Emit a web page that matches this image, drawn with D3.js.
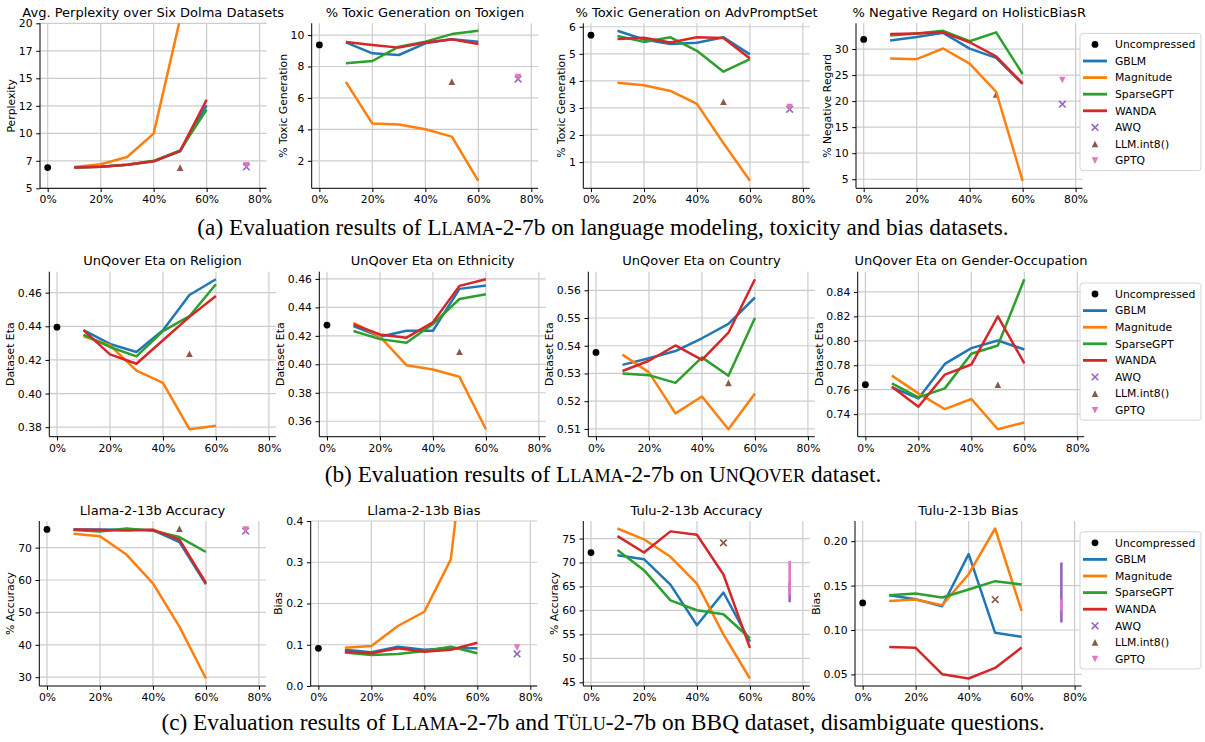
<!DOCTYPE html>
<html><head><meta charset="utf-8">
<script src="https://cdn.jsdelivr.net/npm/d3@7"></script>
<style>body{margin:0;background:#fff} svg text{font-family:"DejaVu Sans",sans-serif}</style>
</head><body><svg id="c" width="1205" height="742"></svg>
<script>
// ---------------- data ----------------
const sparsity = [10, 20, 30, 40, 50, 60];
const xTicks = [0, 20, 40, 60, 80];
const xTickLabels = ["0%", "20%", "40%", "60%", "80%"];
const methods = ["GBLM", "Magnitude", "SparseGPT", "WANDA"];
const titles = ["Avg. Perplexity over Six Dolma Datasets", "% Toxic Generation on Toxigen", "% Toxic Generation on AdvPromptSet", "% Negative Regard on HolisticBiasR",
  "UnQover Eta on Religion", "UnQover Eta on Ethnicity", "UnQover Eta on Country", "UnQover Eta on Gender-Occupation",
  "Llama-2-13b Accuracy", "Llama-2-13b Bias", "Tulu-2-13b Accuracy", "Tulu-2-13b Bias"];
const yLabels = ["Perplexity", "% Toxic Generation", "% Toxic Generation", "% Negative Regard",
  "Dataset Eta", "Dataset Eta", "Dataset Eta", "Dataset Eta",
  "% Accuracy", "Bias", "% Accuracy", "Bias"];

// panel 1: perplexity
const pplGBLM = [6.88, 6.97, 7.15, 7.45, 8.35, 12.55];
const pplMagnitude = [6.94, 7.18, 7.85, 9.97, 20.4, 45];
const pplSparseGPT = [6.9, 6.97, 7.15, 7.5, 8.45, 12.15];
const pplWANDA = [6.88, 6.97, 7.15, 7.45, 8.4, 13.05];
const pplTicks = [5, 7.5, 10, 12.5, 15, 17.5, 20];
const pplTickLabels = ["5", "7", "10", "12", "15", "17", "20"];
// panel 2: toxigen
const toxGBLM = [9.53, 8.84, 8.73, 9.47, 9.73, 9.58];
const toxMagnitude = [7.02, 4.37, 4.31, 4.01, 3.54, 0.73];
const toxSparseGPT = [8.2, 8.35, 9.26, 9.58, 10.06, 10.27];
const toxWANDA = [9.56, 9.37, 9.2, 9.53, 9.73, 9.43];
// panel 3: advpromptset
const advGBLM = [5.85, 5.53, 5.36, 5.41, 5.61, 4.98];
const advMagnitude = [3.93, 3.84, 3.63, 3.15, 1.70, 0.31];
const advSparseGPT = [5.66, 5.44, 5.61, 5.11, 4.34, 4.80];
const advWANDA = [5.55, 5.59, 5.42, 5.61, 5.58, 4.83];
// panel 4: holisticbiasr
const hbGBLM = [31.65, 32.3, 33.1, 30.07, 28.3, 23.3];
const hbMagnitude = [28.2, 28.05, 30.1, 27.2, 21.8, 4.7];
const hbSparseGPT = [32.6, 33.0, 33.5, 31.5, 33.2, 25.2];
const hbWANDA = [32.9, 33.0, 33.2, 31.3, 28.6, 23.4];
// panel 5: religion
const relGBLM = [0.4377, 0.4295, 0.4247, 0.4377, 0.4586, 0.468];
const relMagnitude = [0.434, 0.4287, 0.4137, 0.4063, 0.3788, 0.3808];
const relSparseGPT = [0.435, 0.4277, 0.4221, 0.4371, 0.446, 0.465];
const relWANDA = [0.4377, 0.4233, 0.4177, 0.4317, 0.4456, 0.458];
// panel 6: ethnicity
const ethGBLM = [0.4269, 0.4194, 0.4236, 0.4236, 0.453, 0.4553];
const ethMagnitude = [0.4292, 0.4194, 0.3994, 0.3964, 0.3912, 0.3544];
const ethSparseGPT = [0.4234, 0.4177, 0.4151, 0.4283, 0.4459, 0.4492];
const ethWANDA = [0.4281, 0.421, 0.4187, 0.4295, 0.4551, 0.4598];
// panel 7: country
const ctyGBLM = [0.5331, 0.5355, 0.5381, 0.5427, 0.5479, 0.5574];
const ctyMagnitude = [0.5368, 0.5304, 0.5156, 0.5217, 0.5099, 0.5228];
const ctySparseGPT = [0.53, 0.5294, 0.5266, 0.5358, 0.5292, 0.55];
const ctyWANDA = [0.5309, 0.5346, 0.5401, 0.5349, 0.5447, 0.564];
// panel 8: gender-occupation
const genGBLM = [0.7619, 0.7529, 0.7811, 0.794, 0.8003, 0.7929];
const genMagnitude = [0.7715, 0.757, 0.7441, 0.7524, 0.7277, 0.7332];
const genSparseGPT = [0.7652, 0.7537, 0.7611, 0.7894, 0.7962, 0.8504];
const genWANDA = [0.7625, 0.7461, 0.7724, 0.7806, 0.82, 0.7816];
// panel 9: llama-2-13b accuracy
const l13AccGBLM = [75.6, 75.6, 75.5, 75.4, 71.7, 58.7];
const l13AccMagnitude = [74.3, 73.5, 67.85, 58.95, 45.6, 29.6];
const l13AccSparseGPT = [75.4, 75.0, 75.9, 75.2, 73.25, 68.65];
const l13AccWANDA = [75.6, 75.4, 75.3, 75.5, 72.45, 59.1];
// panel 10: llama-2-13b bias
const l13BiasGBLM = [0.088, 0.0817, 0.0953, 0.088, 0.0913, 0.0913];
const l13BiasMagnitude = [0.093, 0.097, 0.1455, 0.180, 0.307, 0.854];
const l13BiasSparseGPT = [0.081, 0.0752, 0.0776, 0.085, 0.0953, 0.0792];
const l13BiasWANDA = [0.0832, 0.0792, 0.0913, 0.0832, 0.088, 0.105];
// panel 11: tulu-2-13b accuracy
const t13AccGBLM = [71.5, 70.7, 65.4, 56.9, 63.75, 53.5];
const t13AccMagnitude = [77.1, 74.85, 71.2, 65.6, 55.0, 45.8];
const t13AccSparseGPT = [72.6, 68.4, 62.1, 60.05, 59.2, 54.2];
const t13AccWANDA = [75.5, 72.1, 76.5, 75.8, 67.5, 52.2];
// panel 12: tulu-2-13b bias
const t13BiasGBLM = [0.1392, 0.1347, 0.1268, 0.1854, 0.0968, 0.0923];
const t13BiasMagnitude = [0.1328, 0.1343, 0.128, 0.1628, 0.2143, 0.1215];
const t13BiasSparseGPT = [0.1392, 0.1411, 0.1366, 0.1456, 0.155, 0.1512];
const t13BiasWANDA = [0.081, 0.0799, 0.0502, 0.0454, 0.0573, 0.0803];

// single points (one per panel)
const uncompressed = [6.88, 9.37, 5.69, 31.84, 0.4395, 0.4276, 0.5376, 0.7641, 75.6, 0.0913, 72.08, 0.1305];
const llmInt8 = [6.88, 7.04, 3.23, 21.3, 0.4237, 0.4088, 0.5266, 0.7641, 75.8, null, 74.1, 0.1343];
const awq = [6.94, 7.2, 2.95, 19.4, null, null, null, null, 75.1, 0.0776, null, null];
const gptq = [7.1, 7.33, 3.03, 24.05, null, null, null, null, 75.6, 0.093, null, null];
// vertical ranges at 75% for the Tulu panels
const awqRangeTuluAcc = [61.7, 66.0];
const gptqRangeTuluAcc = [63.3, 70.3];
const awqRangeTuluBias = [0.1084, 0.176];
const gptqRangeTuluBias = [0.1212, 0.1347];
const int8X = 50, quantX = 75, uncompX = 0;

const series = [
  [pplGBLM, pplMagnitude, pplSparseGPT, pplWANDA],
  [toxGBLM, toxMagnitude, toxSparseGPT, toxWANDA],
  [advGBLM, advMagnitude, advSparseGPT, advWANDA],
  [hbGBLM, hbMagnitude, hbSparseGPT, hbWANDA],
  [relGBLM, relMagnitude, relSparseGPT, relWANDA],
  [ethGBLM, ethMagnitude, ethSparseGPT, ethWANDA],
  [ctyGBLM, ctyMagnitude, ctySparseGPT, ctyWANDA],
  [genGBLM, genMagnitude, genSparseGPT, genWANDA],
  [l13AccGBLM, l13AccMagnitude, l13AccSparseGPT, l13AccWANDA],
  [l13BiasGBLM, l13BiasMagnitude, l13BiasSparseGPT, l13BiasWANDA],
  [t13AccGBLM, t13AccMagnitude, t13AccSparseGPT, t13AccWANDA],
  [t13BiasGBLM, t13BiasMagnitude, t13BiasSparseGPT, t13BiasWANDA]
];

// ---------------- styling / layout ----------------
const colors = {GBLM: "#1f77b4", Magnitude: "#ff7f0e", SparseGPT: "#2ca02c", WANDA: "#d62728",
  AWQ: "#9467bd", INT8: "#8c564b", GPTQ: "#e377c2", UNC: "#000000"};
const W = 226.5, H = 165;
const rowsT = [23.3, 271.7, 521];
const lefts = [40, 311.7, 583.3, 856, 49.3, 319.3, 588.3, 857.7, 39.3, 310.7, 583.3, 855];
const xDomain = [-2.9, 82.6];
const FS = 10.8;

const panelCfg = [
  {ticks: pplTicks, labels: pplTickLabels, fixed: [5, 20]},
  {ticks: [2, 4, 6, 8, 10], fmt: "d"},
  {ticks: [1, 2, 3, 4, 5, 6], fmt: "d"},
  {ticks: [5, 10, 15, 20, 25, 30], fmt: "d"},
  {ticks: [0.38, 0.40, 0.42, 0.44, 0.46], fmt: ".2f"},
  {ticks: [0.36, 0.38, 0.40, 0.42, 0.44, 0.46], fmt: ".2f"},
  {ticks: [0.51, 0.52, 0.53, 0.54, 0.55, 0.56], fmt: ".2f"},
  {ticks: [0.74, 0.76, 0.78, 0.80, 0.82, 0.84], fmt: ".2f"},
  {ticks: [30, 40, 50, 60, 70], fmt: "d"},
  {ticks: [0, 0.1, 0.2, 0.3, 0.4], fmt: ".1f", fixed: [0, 0.4]},
  {ticks: [45, 50, 55, 60, 65, 70, 75], fmt: "d", int8Cross: true, ranges: [awqRangeTuluAcc, gptqRangeTuluAcc]},
  {ticks: [0.05, 0.10, 0.15, 0.20], fmt: ".2f", int8Cross: true, ranges: [awqRangeTuluBias, gptqRangeTuluBias]}
];

const svg = d3.select("#c");
svg.append("rect").attr("width", 1205).attr("height", 742).attr("fill", "#fff");

function drawMarker(g, type, cx, cy, color) {
  const s = 3.3;
  if (type === "circle") {
    g.append("circle").attr("cx", cx).attr("cy", cy).attr("r", 3.4).attr("fill", color);
  } else if (type === "tri") {
    g.append("path").attr("d", `M${cx},${cy - s}L${cx - s},${cy + s}L${cx + s},${cy + s}Z`).attr("fill", color);
  } else if (type === "trid") {
    g.append("path").attr("d", `M${cx},${cy + s}L${cx - s},${cy - s}L${cx + s},${cy - s}Z`).attr("fill", color);
  } else if (type === "cross") {
    g.append("path").attr("d", `M${cx - s},${cy - s}L${cx + s},${cy + s}M${cx - s},${cy + s}L${cx + s},${cy - s}`)
      .attr("stroke", color).attr("stroke-width", 1.6).attr("fill", "none");
  }
}

series.forEach((ser, i) => {
  const cfg = panelCfg[i];
  const L = lefts[i], T = rowsT[Math.floor(i / 4)];
  // y domain (matplotlib-like 5% margins)
  let yDom = cfg.fixed;
  if (!yDom) {
    const vals = [].concat(...ser, [uncompressed[i], llmInt8[i], awq[i], gptq[i]].filter(v => v != null), ...(cfg.ranges || []));
    const [mn, mx] = d3.extent(vals);
    const pad = (mx - mn) * 0.05;
    yDom = [mn - pad, mx + pad];
  }
  const x = d3.scaleLinear().domain(xDomain).range([L, L + W]);
  const y = d3.scaleLinear().domain(yDom).range([T + H, T]);
  const g = svg.append("g");
  const clipId = "clip" + i;
  svg.append("clipPath").attr("id", clipId).append("rect").attr("x", L).attr("y", T).attr("width", W).attr("height", H);

  // grid
  g.append("g").selectAll("line").data(xTicks).join("line")
    .attr("x1", d => x(d)).attr("x2", d => x(d)).attr("y1", T).attr("y2", T + H)
    .attr("stroke", "#cccccc").attr("stroke-width", 1.2);
  g.append("g").selectAll("line").data(cfg.ticks).join("line")
    .attr("x1", L).attr("x2", L + W).attr("y1", d => y(d)).attr("y2", d => y(d))
    .attr("stroke", "#cccccc").attr("stroke-width", 1.2);

  // axes
  const xa = g.append("g").attr("transform", `translate(0,${T + H})`)
    .call(d3.axisBottom(x).tickValues(xTicks).tickFormat((d, j) => xTickLabels[j]).tickSize(3.8).tickSizeOuter(0).tickPadding(3.6));
  const yfmt = cfg.labels ? ((d, j) => cfg.labels[j]) : d3.format(cfg.fmt);
  const ya = g.append("g").attr("transform", `translate(${L},0)`)
    .call(d3.axisLeft(y).tickValues(cfg.ticks).tickFormat(yfmt).tickSize(3.8).tickSizeOuter(0).tickPadding(3.6));
  [xa, ya].forEach(a => {
    a.attr("font-family", "DejaVu Sans").attr("font-size", FS);
    a.select(".domain").attr("stroke", "#000").attr("stroke-width", 1);
    a.selectAll(".tick line").attr("stroke", "#000").attr("stroke-width", 1);
    a.selectAll(".tick text").attr("fill", "#000");
  });
  ya.select(".domain").attr("d", `M0,${T + H}V${T}`);
  xa.select(".domain").attr("d", `M${L},0H${L + W}`);

  // y label position from tick label width
  let maxW = 0;
  ya.selectAll(".tick text").each(function () { maxW = Math.max(maxW, this.getBBox().width); });
  const lx = L - maxW - 11;
  g.append("text").attr("transform", `translate(${lx},${T + H / 2}) rotate(-90)`)
    .attr("text-anchor", "middle").attr("font-size", FS).text(yLabels[i]);
  // title
  g.append("text").attr("x", L + W / 2).attr("y", T - 6.5).attr("text-anchor", "middle")
    .attr("font-size", 13).text(titles[i]);

  const pg = g.append("g").attr("clip-path", `url(#${clipId})`);
  // single markers
  drawMarker(pg, "circle", x(uncompX), y(uncompressed[i]), colors.UNC);
  if (awq[i] != null) drawMarker(pg, "cross", x(quantX), y(awq[i]), colors.AWQ);
  if (llmInt8[i] != null) drawMarker(pg, cfg.int8Cross ? "cross" : "tri", x(int8X), y(llmInt8[i]), colors.INT8);
  if (gptq[i] != null) drawMarker(pg, "trid", x(quantX), y(gptq[i]), colors.GPTQ);
  if (cfg.ranges) {
    const [ra, rg] = cfg.ranges;
    pg.append("line").attr("x1", x(quantX)).attr("x2", x(quantX)).attr("y1", y(ra[0])).attr("y2", y(ra[1]))
      .attr("stroke", colors.AWQ).attr("stroke-width", 2.6);
    pg.append("line").attr("x1", x(quantX)).attr("x2", x(quantX)).attr("y1", y(rg[0])).attr("y2", y(rg[1]))
      .attr("stroke", colors.GPTQ).attr("stroke-width", 2.6);
  }
  // lines
  const line = d3.line().x((d, j) => x(sparsity[j])).y(d => y(d));
  methods.forEach((m, k) => {
    pg.append("path").attr("d", line(ser[k])).attr("fill", "none").attr("stroke", colors[m])
      .attr("stroke-width", 2.5).attr("stroke-linejoin", "round");
  });
});

// ---------------- legends ----------------
const legendItems = [
  {name: "Uncompressed", type: "circle", c: colors.UNC},
  {name: "GBLM", type: "line", c: colors.GBLM},
  {name: "Magnitude", type: "line", c: colors.Magnitude},
  {name: "SparseGPT", type: "line", c: colors.SparseGPT},
  {name: "WANDA", type: "line", c: colors.WANDA},
  {name: "AWQ", type: "cross", c: colors.AWQ},
  {name: "LLM.int8()", type: "tri", c: colors.INT8},
  {name: "GPTQ", type: "trid", c: colors.GPTQ}
];
const legendTop = [44.4, 294, 542.8];
const legStep = 16.6;
legendTop.forEach(y0 => {
  const lg = svg.append("g");
  lg.append("rect").attr("x", 1080).attr("y", y0 - 11).attr("width", 121)
    .attr("height", legStep * 7 + 21).attr("rx", 3).attr("fill", "#fff").attr("fill-opacity", 0.8)
    .attr("stroke", "#d5d5d5").attr("stroke-width", 1);
  legendItems.forEach((it, k) => {
    const cy = y0 + k * legStep;
    if (it.type === "line") {
      lg.append("line").attr("x1", 1083).attr("x2", 1107).attr("y1", cy).attr("y2", cy)
        .attr("stroke", it.c).attr("stroke-width", 2.8);
    } else drawMarker(lg, it.type, 1095, cy, it.c);
    lg.append("text").attr("x", 1115).attr("y", cy).attr("dy", "0.36em").attr("font-size", FS).text(it.name);
  });
});

// ---------------- captions ----------------
const captions = [
  {y: 234.5, width: 837, parts: [["(a) Evaluation results of ", 0], ["L", 0], ["LAMA", 1], ["-2-7b on language modeling, toxicity and bias datasets.", 0]]},
  {y: 481.5, width: 535, parts: [["(b) Evaluation results of ", 0], ["L", 0], ["LAMA", 1], ["-2-7b on ", 0], ["U", 0], ["N", 1], ["Q", 0], ["OVER", 1], [" dataset.", 0]]},
  {y: 729.5, width: 890, parts: [["(c) Evaluation results of ", 0], ["L", 0], ["LAMA", 1], ["-2-7b and ", 0], ["T", 0], ["ÜLU", 1], ["-2-7b on BBQ dataset, disambiguate questions.", 0]]}
];
const capNodes = [];
let ratio = 0;
captions.forEach(c => {
  const t = svg.append("text").attr("x", 603).attr("y", c.y).attr("text-anchor", "middle")
    .style("font-family", "'Liberation Serif', 'Times New Roman', serif").attr("font-size", 20);
  c.parts.forEach(([s, sm]) => t.append("tspan").attr("font-size", sm ? 15.6 : 20).text(s));
  capNodes.push(t);
  ratio += c.width / t.node().getComputedTextLength();
});
ratio /= captions.length;
capNodes.forEach((t, k) => {
  t.selectAll("tspan").attr("font-size", (d, j) => (captions[k].parts[j][1] ? 15.6 : 20) * ratio);
});
</script></body></html>
